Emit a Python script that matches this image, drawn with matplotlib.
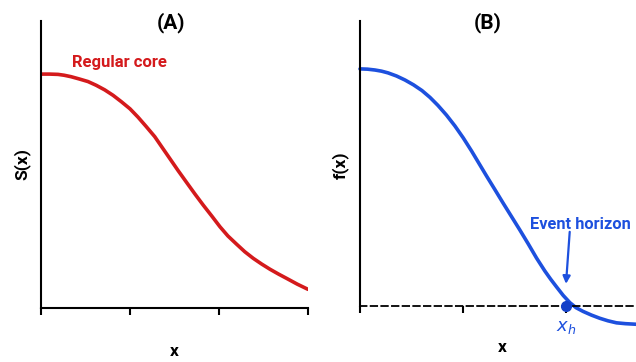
import matplotlib
matplotlib.use("Agg")
import matplotlib.pyplot as plt

plt.rcParams['font.family'] = ['Roboto', 'DejaVu Sans']

# Panel A data
x_a = [0.000, 0.095, 0.191, 0.260, 0.337, 0.430, 0.528, 0.620, 0.716, 0.810, 0.902,
       1.000, 1.090, 1.180, 1.278, 1.360, 1.449, 1.540, 1.637, 1.730, 1.824, 1.920,
       2.011, 2.100, 2.199, 2.290, 2.385, 2.480, 2.573, 2.670, 2.761, 2.880, 3.000]
s_a = [0.815, 0.815, 0.814, 0.811, 0.806, 0.798, 0.789, 0.776, 0.760, 0.741, 0.719,
       0.694, 0.665, 0.633, 0.597, 0.560, 0.520, 0.479, 0.437, 0.397, 0.358, 0.320,
       0.283, 0.251, 0.222, 0.196, 0.173, 0.153, 0.135, 0.118, 0.103, 0.083, 0.065]

# Panel B data
x_b = [0.000, 0.073, 0.146, 0.209, 0.272, 0.355, 0.437, 0.520, 0.602, 0.680, 0.757,
       0.840, 0.922, 1.003, 1.084, 1.157, 1.230, 1.310, 1.391, 1.472, 1.553, 1.635,
       1.716, 1.796, 1.853, 1.910, 1.975, 2.039, 2.100, 2.168, 2.250, 2.330, 2.410,
       2.492, 2.580, 2.680, 2.760]
f_b = [0.832, 0.831, 0.828, 0.824, 0.818, 0.807, 0.793, 0.776, 0.756, 0.732, 0.704,
       0.670, 0.632, 0.590, 0.544, 0.500, 0.456, 0.409, 0.361, 0.314, 0.267, 0.218,
       0.168, 0.123, 0.094, 0.067, 0.037, 0.012, -0.006, -0.019, -0.032, -0.043, -0.052,
       -0.059, -0.062, -0.064, -0.065]
x_h = 2.0

ticks_a = [0, 1, 2, 3]
ticks_b = [0, 1, 2]

red = '#d41a1c'
blue = '#1d50de'

W, H = 636, 362
fig = plt.figure(figsize=(6.36, 3.62), dpi=100)

def rect(l, r, t, b):
    return [l / W, 1 - b / H, (r - l) / W, (b - t) / H]

# Panel A
axA = fig.add_axes(rect(41, 308, 21, 308))
axA.plot(x_a, s_a, color=red, lw=2.6, solid_capstyle='round', solid_joinstyle='round')
axA.set_xlim(0, 3)
axA.set_ylim(0, 1.0)
axA.set_xticks(ticks_a)
axA.set_xticklabels([])
axA.set_yticks([])
for s in ['top', 'right']:
    axA.spines[s].set_visible(False)
for s in ['left', 'bottom']:
    axA.spines[s].set_linewidth(1.5)
axA.tick_params(axis='x', length=5, width=1.5)
axA.set_xlabel('x', fontsize=12.5, fontweight='bold', va='center')
axA.xaxis.set_label_coords(0.5, (308 - 352) / 287)
axA.set_ylabel('S(x)', fontsize=12.5, fontweight='bold', va='center')
axA.yaxis.set_label_coords((22 - 41) / 267, 0.5)
axA.text((171 - 41) / 267, (308 - 23) / 287, '(A)', transform=axA.transAxes,
         fontsize=15, fontweight='bold', ha='center', va='center')
axA.text(0.35, (308 - 63) / 287, 'Regular core', color=red, fontsize=12, fontweight='bold',
         ha='left', va='center')

# Panel B
axB = fig.add_axes(rect(360, 644, 21, 334.5))
axB.plot(x_b, f_b, color=blue, lw=2.6, solid_capstyle='round', solid_joinstyle='round',
         clip_on=False)
axB.set_xlim(0, 2.76)
axB.set_ylim(-0.1, 1.0)
axB.set_xticks(ticks_b)
axB.set_xticklabels([])
axB.set_yticks([])
for s in ['top', 'right']:
    axB.spines[s].set_visible(False)
axB.spines['left'].set_linewidth(1.5)
axB.spines['left'].set_bounds(0, 1.0)
axB.spines['bottom'].set_position(('data', 0))
axB.spines['bottom'].set_linestyle((0, (3.6, 2.3)))
axB.spines['bottom'].set_linewidth(1.3)
axB.tick_params(axis='x', length=5, width=1.5)
axB.set_xlabel('x', fontsize=12.5, fontweight='bold', va='center')
axB.xaxis.set_label_coords(0.5, (334.5 - 348) / 313.5)
axB.set_ylabel('f(x)', fontsize=12.5, fontweight='bold', va='center')
axB.yaxis.set_label_coords((340 - 360) / 284, (334.5 - 165) / 313.5)
axB.text((488 - 360) / 284, (334.5 - 23) / 313.5, '(B)', transform=axB.transAxes,
         fontsize=15, fontweight='bold', ha='center', va='center')
axB.plot([x_h], [0], 'o', color='#1440c8', ms=7, zorder=5, clip_on=False)
axB.text(x_h, -0.074, '$x_h$', color=blue, fontsize=13, ha='center', va='center')
axB.annotate('', xy=(x_h, 0.068), xytext=(x_h + 0.04, 0.27),
             arrowprops=dict(arrowstyle='-|>', color=blue, lw=1.6, mutation_scale=11))
axB.text(1.655, (306 - 224) / 285, 'Event horizon', color=blue, fontsize=11.8,
         fontweight='bold', ha='left', va='center')

fig.savefig('out.png', dpi=100)
